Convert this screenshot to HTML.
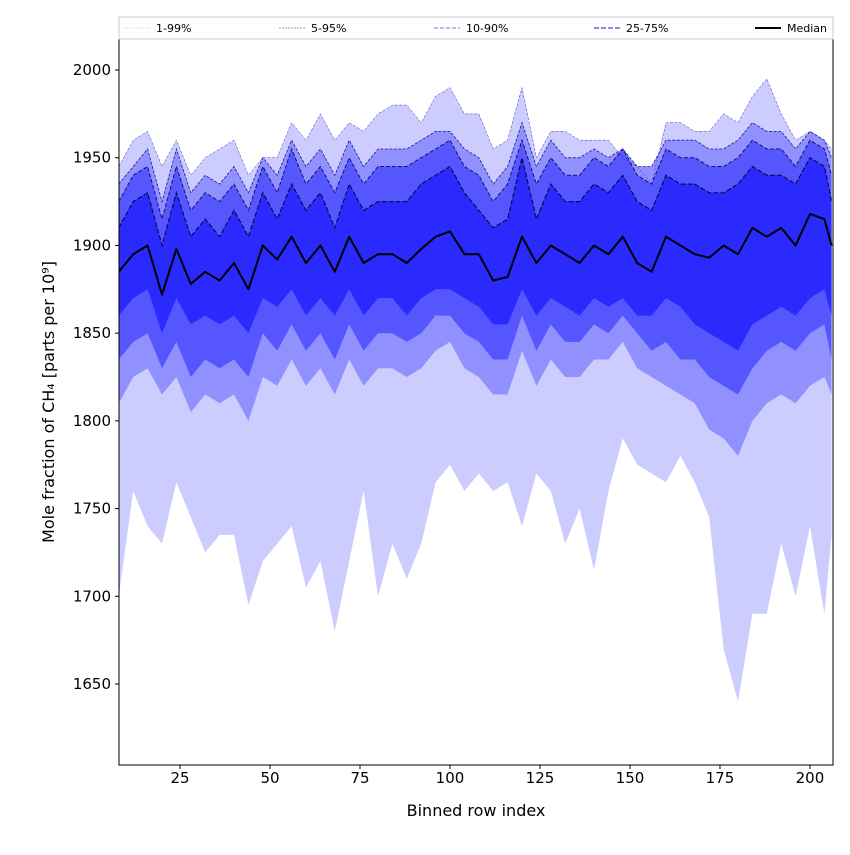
<!DOCTYPE html>
<html><head><meta charset="utf-8"><style>
body{margin:0;background:#fff;font-family:"Liberation Sans","DejaVu Sans",sans-serif;}
svg text{font-family:"DejaVu Sans","Liberation Sans",sans-serif;}
</style></head><body>
<svg id="chart" width="850" height="850" xmlns="http://www.w3.org/2000/svg"></svg>
<script>
const xIdx=[8,12,16,20,24,28,32,36,40,44,48,52,56,60,64,68,72,76,80,84,88,92,96,100,104,108,112,116,120,124,128,132,136,140,144,148,152,156,160,164,168,172,176,180,184,188,192,196,200,204,206];
const p1=[1700,1760,1740,1730,1765,1745,1725,1735,1735,1695,1720,1730,1740,1705,1720,1680,1720,1760,1700,1730,1710,1730,1765,1775,1760,1770,1760,1765,1740,1770,1760,1730,1750,1715,1760,1790,1775,1770,1765,1780,1765,1745,1670,1640,1690,1690,1730,1700,1740,1690,1735];
const p5=[1810,1825,1830,1815,1825,1805,1815,1810,1815,1800,1825,1820,1835,1820,1830,1815,1835,1820,1830,1830,1825,1830,1840,1845,1830,1825,1815,1815,1840,1820,1835,1825,1825,1835,1835,1845,1830,1825,1820,1815,1810,1795,1790,1780,1800,1810,1815,1810,1820,1825,1815];
const p10=[1835,1845,1850,1830,1845,1825,1835,1830,1835,1825,1850,1840,1855,1840,1850,1835,1855,1840,1850,1850,1845,1850,1860,1860,1850,1845,1835,1835,1860,1840,1855,1845,1845,1855,1850,1860,1850,1840,1845,1835,1835,1825,1820,1815,1830,1840,1845,1840,1850,1855,1835];
const p25=[1860,1870,1875,1850,1870,1855,1860,1855,1860,1850,1870,1865,1875,1860,1870,1860,1875,1860,1870,1870,1860,1870,1875,1875,1870,1865,1855,1855,1875,1860,1870,1865,1860,1870,1865,1870,1860,1860,1870,1865,1855,1850,1845,1840,1855,1860,1865,1860,1870,1875,1860];
const median=[1885,1895,1900,1872,1898,1878,1885,1880,1890,1875,1900,1892,1905,1890,1900,1885,1905,1890,1895,1895,1890,1898,1905,1908,1895,1895,1880,1882,1905,1890,1900,1895,1890,1900,1895,1905,1890,1885,1905,1900,1895,1893,1900,1895,1910,1905,1910,1900,1918,1915,1900];
const p75=[1910,1925,1930,1900,1930,1905,1915,1905,1920,1905,1930,1915,1935,1920,1930,1910,1935,1920,1925,1925,1925,1935,1940,1945,1930,1920,1910,1915,1950,1915,1935,1925,1925,1935,1930,1940,1925,1920,1940,1935,1935,1930,1930,1935,1945,1940,1940,1935,1950,1945,1925];
const p90=[1925,1940,1945,1915,1945,1920,1930,1925,1935,1920,1945,1930,1955,1935,1945,1930,1950,1935,1945,1945,1945,1950,1955,1960,1945,1940,1925,1935,1960,1935,1950,1940,1940,1950,1945,1955,1940,1935,1955,1950,1950,1945,1945,1950,1960,1955,1955,1945,1960,1955,1940];
const p95=[1935,1945,1955,1925,1955,1930,1940,1935,1945,1930,1950,1940,1960,1945,1955,1940,1960,1945,1955,1955,1955,1960,1965,1965,1955,1950,1935,1945,1970,1945,1960,1950,1950,1955,1950,1955,1945,1945,1960,1960,1960,1955,1955,1960,1970,1965,1965,1955,1965,1960,1950];
const p99=[1945,1960,1965,1945,1960,1940,1950,1955,1960,1940,1950,1950,1970,1960,1975,1960,1970,1965,1975,1980,1980,1970,1985,1990,1975,1975,1955,1960,1990,1950,1965,1965,1960,1960,1960,1950,1945,1935,1970,1970,1965,1965,1975,1970,1985,1995,1975,1960,1965,1960,1955];
const xTicks=[25,50,75,100,125,150,175,200];
const yTicks=[1650,1700,1750,1800,1850,1900,1950,2000];

const L=119,R=833,T=39,B=765;
const xMin=8.05,xMax=206.4,yMin=1603.8,yMax=2017.7;
const sx=v=>L+(v-xMin)/(xMax-xMin)*(R-L);
const sy=v=>B-(v-yMin)/(yMax-yMin)*(B-T);
const NS="http://www.w3.org/2000/svg";
const svg=document.getElementById('chart');
function mk(tag,attrs,parent){const e=document.createElementNS(NS,tag);for(const k in attrs)e.setAttribute(k,attrs[k]);(parent||svg).appendChild(e);return e;}
const defs=mk('defs',{});
const cp=mk('clipPath',{id:'clip'},defs);mk('rect',{x:L,y:T,width:R-L,height:B-T},cp);
const g=mk('g',{'clip-path':'url(#clip)'});


function bandPath(lo,hi){let d='';xIdx.forEach((x,i)=>{d+=(i?'L':'M')+sx(x).toFixed(1)+','+sy(hi[i]).toFixed(1);});for(let i=xIdx.length-1;i>=0;i--)d+='L'+sx(xIdx[i]).toFixed(1)+','+sy(lo[i]).toFixed(1);return d+'Z';}
function linePath(arr){return xIdx.map((x,i)=>(i?'L':'M')+sx(x).toFixed(1)+','+sy(arr[i]).toFixed(1)).join('');}
const bands=[[p1,p99,'#ccccff','band-1-99'],[p5,p95,'#9090ff','band-5-95'],[p10,p90,'#5656ff','band-10-90'],[p25,p75,'#2a2aff','band-25-75']];
bands.forEach(b=>{const p=mk('path',{d:bandPath(b[0],b[1]),fill:b[2],stroke:'none'},g);

});
const lines=[[p99,'#3333cc','0.5','3,1.5','line-p99'],[p95,'#1a1a99','0.8','3,1.5','line-p95'],[p90,'#111177','1','4,2','line-p90'],[p75,'#0a0a55','1.2','5,2','line-p75']];
lines.forEach(l=>{const p=mk('path',{d:linePath(l[0]),fill:'none',stroke:l[1],'stroke-width':l[2],'stroke-dasharray':l[3]},g);

});
const med=mk('path',{d:linePath(median),fill:'none',stroke:'#000','stroke-width':'2','stroke-linejoin':'round'},g);


const frame=mk('rect',{x:L,y:T,width:R-L,height:B-T,fill:'none',stroke:'#000','stroke-width':'1'});


xTicks.forEach(t=>{const x=sx(t);mk('line',{x1:x,x2:x,y1:B,y2:B+4,stroke:'#000'});
const tx=mk('text',{x:x,y:B+18,'font-size':'15','text-anchor':'middle'});tx.textContent=t;

});
yTicks.forEach(t=>{const y=sy(t);mk('line',{x1:L-4,x2:L,y1:y,y2:y,stroke:'#000'});
const tx=mk('text',{x:L-8,y:y+5,'font-size':'15','text-anchor':'end'});tx.textContent=t;

});
const xt=mk('text',{x:(L+R)/2,y:816,'font-size':'16','text-anchor':'middle'});xt.textContent='Binned row index';


const yt=mk('text',{x:0,y:0,'font-size':'16','text-anchor':'middle',transform:'translate(54,402) rotate(-90)'});yt.textContent='Mole fraction of CH₄ [parts per 10⁹]';


// legend
const lg=mk('g',{});


mk('rect',{x:119,y:17,width:714,height:22,fill:'#fff',stroke:'#ccc'},lg);
const entries=[[124,'#bbbbee','0.5','2,1','1-99%'],[279,'#333399','0.6','2,1','5-95%'],[434,'#7777cc','1','4,2','10-90%'],[594,'#4444ee','1.2','5,2','25-75%'],[755,'#000','2','','Median']];
entries.forEach(e=>{const ge=mk('g',{},lg);


mk('line',{x1:e[0],x2:e[0]+26,y1:28,y2:28,stroke:e[1],'stroke-width':e[2],'stroke-dasharray':e[3]},ge);
const t=mk('text',{x:e[0]+32,y:32,'font-size':'11'},ge);t.textContent=e[4];});
</script>
</body></html>
